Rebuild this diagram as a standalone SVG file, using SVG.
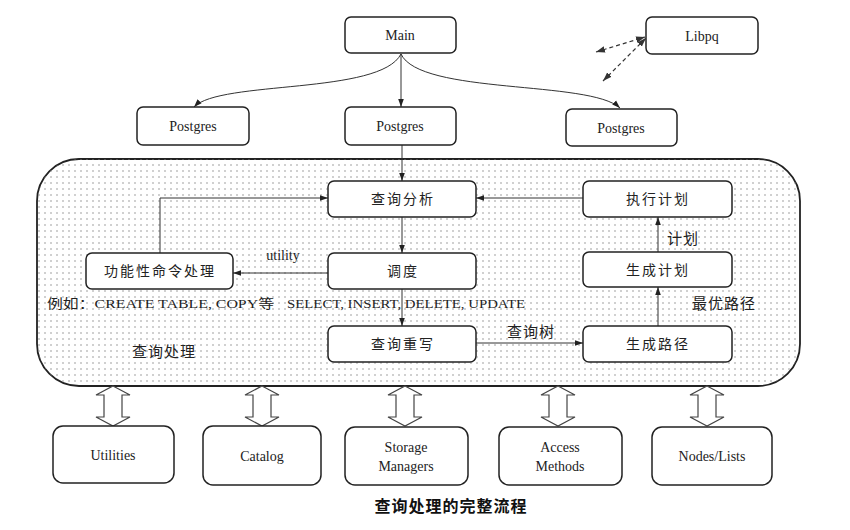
<svg xmlns="http://www.w3.org/2000/svg" width="850" height="530" viewBox="0 0 850 530">
<style>
.box{fill:#fff;stroke:#222;stroke-width:1.5}
.inbox{fill:#fff;stroke:#222;stroke-width:1.5}
.t{font-family:"Liberation Serif","Noto Sans CJK SC",serif;font-size:14px;fill:#222;text-anchor:middle;dominant-baseline:central}
.cn{font-family:"Liberation Serif","Noto Sans CJK SC",serif;font-size:14px;fill:#222;text-anchor:middle;dominant-baseline:central;letter-spacing:2px}
.lbl{font-family:"Liberation Serif","Noto Sans CJK SC",serif;font-size:13px;fill:#222;dominant-baseline:central}
.cl{font-family:"Liberation Serif","Noto Sans CJK SC",serif;font-size:15px;fill:#222;dominant-baseline:central;letter-spacing:1px}
.ln{fill:none;stroke:#333;stroke-width:1}
.dash{fill:none;stroke:#333;stroke-width:1.2;stroke-dasharray:4 3}
.hol{fill:#fff;stroke:#444;stroke-width:1.2}
</style>
<defs>
<pattern id="dots" width="6" height="6" patternUnits="userSpaceOnUse">
<circle cx="3" cy="3" r="0.75" fill="#888"/>
</pattern>
<marker id="ar" viewBox="0 0 10 10" refX="10" refY="5" markerWidth="8" markerHeight="8" orient="auto-start-reverse" markerUnits="userSpaceOnUse">
<path d="M0,1.5 L10,5 L0,8.5 z" fill="#222"/>
</marker>
<marker id="ad" viewBox="0 0 10 10" refX="10" refY="5" markerWidth="9" markerHeight="9" orient="auto-start-reverse" markerUnits="userSpaceOnUse">
<path d="M0,1.5 L10,5 L0,8.5 z" fill="#333"/>
</marker>
<path id="harrow" d="M0,0 L17,9 L9,9 L9,31 L17,31 L0,40 L-17,31 L-9,31 L-9,9 L-17,9 Z"/>
</defs>

<g id="query-processing">
<rect x="37" y="159" width="763" height="227" rx="42" fill="#fff" stroke="#222" stroke-width="1.8"/>
<rect x="37" y="159" width="763" height="227" rx="42" fill="url(#dots)"/>
<text class="cl" x="132" y="352">查询处理</text>
</g>

<g id="connectors">
<path class="ln" d="M401,54 C380,95 220,80 194,107" marker-end="url(#ar)"/>
<path class="ln" d="M401,54 L401,107" marker-end="url(#ar)"/>
<path class="ln" d="M401,54 C420,95 590,80 620,108" marker-end="url(#ar)"/>
<path class="dash" d="M596,52 L645,37" marker-start="url(#ad)" marker-end="url(#ad)"/>
<path class="dash" d="M603,81 L646,38" marker-start="url(#ad)" marker-end="url(#ad)"/>
<path class="ln" d="M402,145 L402,181" marker-end="url(#ar)"/>
<path class="ln" d="M402,217 L402,253" marker-end="url(#ar)"/>
<path class="ln" d="M402,289 L402,326" marker-end="url(#ar)"/>
<path class="ln" d="M328,273 L233,273" marker-end="url(#ar)"/>
<path class="ln" d="M160,253 L160,198 L328,198" marker-end="url(#ar)"/>
<path class="ln" d="M583,198 L476,198" marker-end="url(#ar)"/>
<path class="ln" d="M476,343 L583,343" marker-end="url(#ar)"/>
<path class="ln" d="M658,326 L658,287" marker-end="url(#ar)"/>
<path class="ln" d="M658,252 L658,217" marker-end="url(#ar)"/>
<use href="#harrow" class="hol" x="113" y="386"/>
<use href="#harrow" class="hol" x="262" y="386"/>
<use href="#harrow" class="hol" x="405" y="386"/>
<use href="#harrow" class="hol" x="558" y="386"/>
<use href="#harrow" class="hol" x="707" y="386"/>
<text class="lbl" x="283" y="255" text-anchor="middle" style="font-size:14px">utility</text>
<text class="cl" x="507" y="332">查询树</text>
<text class="cl" x="667" y="239">计划</text>
<text class="cl" x="692" y="304">最优路径</text>
</g>

<text class="lbl" x="47" y="303" textLength="227" lengthAdjust="spacingAndGlyphs">例如：CREATE TABLE, COPY等</text>
<text class="lbl" x="287" y="303" textLength="238" lengthAdjust="spacingAndGlyphs">SELECT, INSERT, DELETE, UPDATE</text>

<g id="main"><rect class="box" x="345" y="17" width="111" height="36" rx="6"/><text class="t" x="400" y="35">Main</text></g>
<g id="libpq"><rect class="box" x="646" y="17" width="112" height="37" rx="6"/><text class="t" x="702" y="36">Libpq</text></g>
<g id="postgres-left"><rect class="box" x="137" y="107" width="112" height="38" rx="6"/><text class="t" x="193" y="126">Postgres</text></g>
<g id="postgres-mid"><rect class="box" x="345" y="107" width="111" height="38" rx="6"/><text class="t" x="400" y="126">Postgres</text></g>
<g id="postgres-right"><rect class="box" x="566" y="109" width="111" height="37" rx="6"/><text class="t" x="621" y="128">Postgres</text></g>

<g id="parse"><rect class="inbox" x="328" y="181" width="148" height="36" rx="6"/><text class="cn" x="403" y="199">查询分析</text></g>
<g id="dispatch"><rect class="inbox" x="328" y="253" width="148" height="36" rx="6"/><text class="cn" x="403" y="271">调度</text></g>
<g id="rewrite"><rect class="inbox" x="328" y="326" width="148" height="36" rx="6"/><text class="cn" x="403" y="344">查询重写</text></g>
<g id="utility-cmd"><rect class="inbox" x="86" y="253" width="147" height="36" rx="6"/><text class="cn" x="160" y="271">功能性命令处理</text></g>
<g id="exec-plan"><rect class="inbox" x="583" y="181" width="149" height="36" rx="6"/><text class="cn" x="658" y="199">执行计划</text></g>
<g id="gen-plan"><rect class="inbox" x="583" y="252" width="149" height="35" rx="6"/><text class="cn" x="658" y="270">生成计划</text></g>
<g id="gen-path"><rect class="inbox" x="583" y="326" width="149" height="36" rx="6"/><text class="cn" x="658" y="344">生成路径</text></g>

<g id="utilities"><rect class="box" x="53" y="426" width="121" height="57" rx="10"/><text class="t" x="113" y="455">Utilities</text></g>
<g id="catalog"><rect class="box" x="203" y="426" width="118" height="59" rx="10"/><text class="t" x="262" y="456">Catalog</text></g>
<g id="storage"><rect class="box" x="345" y="427" width="123" height="58" rx="10"/><text class="t" x="406" y="447">Storage</text><text class="t" x="406" y="466">Managers</text></g>
<g id="access"><rect class="box" x="499" y="427" width="123" height="58" rx="10"/><text class="t" x="560" y="447">Access</text><text class="t" x="560" y="466">Methods</text></g>
<g id="nodes"><rect class="box" x="652" y="427" width="120" height="58" rx="10"/><text class="t" x="712" y="456">Nodes/Lists</text></g>

<text x="451" y="505" text-anchor="middle" dominant-baseline="central" style="font-family:'Noto Sans CJK SC',sans-serif;font-size:16px;font-weight:bold;fill:#111;letter-spacing:1px">查询处理的完整流程</text>
</svg>
